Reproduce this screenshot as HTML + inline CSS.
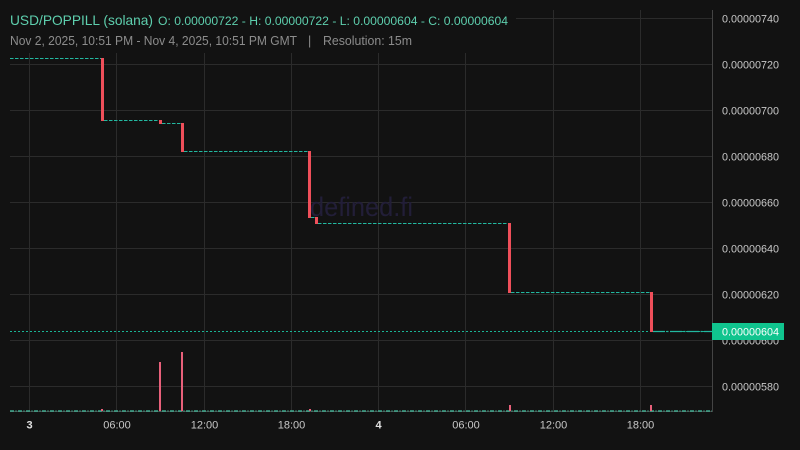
<!DOCTYPE html>
<html><head><meta charset="utf-8"><style>
html,body{margin:0;padding:0;background:#121212;}
svg{display:block;}
text{font-family:"Liberation Sans",sans-serif;}
</style></head><body>
<svg width="800" height="450" viewBox="0 0 800 450" xmlns="http://www.w3.org/2000/svg">
<rect x="0" y="0" width="800" height="450" fill="#121212"/>
<!-- grid -->
<g stroke="#2b2b2b" stroke-width="1">
<line x1="10" y1="18.5" x2="712" y2="18.5"/>
<line x1="10" y1="64.5" x2="712" y2="64.5"/>
<line x1="10" y1="110.5" x2="712" y2="110.5"/>
<line x1="10" y1="156.5" x2="712" y2="156.5"/>
<line x1="10" y1="202.5" x2="712" y2="202.5"/>
<line x1="10" y1="248.5" x2="712" y2="248.5"/>
<line x1="10" y1="294.5" x2="712" y2="294.5"/>
<line x1="10" y1="340.5" x2="712" y2="340.5"/>
<line x1="10" y1="386.5" x2="712" y2="386.5"/>
<line x1="29.5" y1="10" x2="29.5" y2="412"/>
<line x1="116.5" y1="10" x2="116.5" y2="412"/>
<line x1="204.5" y1="10" x2="204.5" y2="412"/>
<line x1="291.5" y1="10" x2="291.5" y2="412"/>
<line x1="378.5" y1="10" x2="378.5" y2="412"/>
<line x1="465.5" y1="10" x2="465.5" y2="412"/>
<line x1="553.5" y1="10" x2="553.5" y2="412"/>
<line x1="640.5" y1="10" x2="640.5" y2="412"/>
</g>
<!-- legend background -->
<rect x="0" y="0" width="516" height="53" fill="#121212"/>
<!-- border -->
<line x1="712.5" y1="10" x2="712.5" y2="412" stroke="#444" stroke-width="1"/>
<line x1="10" y1="411.5" x2="712" y2="411.5" stroke="#444" stroke-width="1"/>
<!-- watermark -->
<text x="310" y="216" font-size="27" fill="#221e38" textLength="103" lengthAdjust="spacingAndGlyphs">defined.fi</text>
<!-- current price line -->
<line x1="10" y1="331.5" x2="712" y2="331.5" stroke="#1ab394" stroke-width="1" stroke-dasharray="2 2"/>
<!-- flat doji lines -->
<g stroke="#22b8a0" stroke-width="1" stroke-dasharray="3.5 1.5" fill="none">
<line x1="10" y1="58.5" x2="101" y2="58.5"/>
<line x1="104" y1="120.5" x2="159" y2="120.5"/>
<line x1="162" y1="123.5" x2="181" y2="123.5"/>
<line x1="184" y1="151.5" x2="308" y2="151.5"/>
<line x1="311" y1="217.5" x2="315" y2="217.5"/>
<line x1="318" y1="223.5" x2="508" y2="223.5"/>
<line x1="511" y1="292.5" x2="650" y2="292.5"/>
</g>
<line x1="653" y1="331.5" x2="712" y2="331.5" stroke="#22b8a0" stroke-width="1.2" stroke-dasharray="12 1.5 2 1.5"/>
<!-- candles -->
<g fill="#ef4f5a">
<rect x="101" y="58" width="3" height="63"/>
<rect x="159" y="120" width="3" height="4"/>
<rect x="181" y="123" width="3" height="29"/>
<rect x="308" y="151" width="3" height="67"/>
<rect x="315" y="217" width="3" height="7"/>
<rect x="508" y="223" width="3" height="70"/>
<rect x="650" y="292" width="3" height="40"/>
</g>
<!-- volume baseline -->
<line x1="10" y1="411" x2="712" y2="411" stroke="#45c4a4" stroke-width="1.2" stroke-dasharray="4 1.5 1 1.5"/>
<!-- volume bars -->
<g fill="#e8607a">
<rect x="101" y="409" width="2" height="2"/>
<rect x="159" y="362" width="2" height="49"/>
<rect x="181" y="352" width="2" height="59"/>
<rect x="309" y="409" width="2" height="2"/>
<rect x="509" y="405" width="2" height="6"/>
<rect x="650" y="405" width="2" height="6"/>
</g>
<!-- y axis labels -->
<g font-size="11" fill="#c8c8c8">
<text x="722" y="22.5" textLength="57" lengthAdjust="spacingAndGlyphs">0.00000740</text>
<text x="722" y="68.5" textLength="57" lengthAdjust="spacingAndGlyphs">0.00000720</text>
<text x="722" y="114.5" textLength="57" lengthAdjust="spacingAndGlyphs">0.00000700</text>
<text x="722" y="160.5" textLength="57" lengthAdjust="spacingAndGlyphs">0.00000680</text>
<text x="722" y="206.5" textLength="57" lengthAdjust="spacingAndGlyphs">0.00000660</text>
<text x="722" y="252.5" textLength="57" lengthAdjust="spacingAndGlyphs">0.00000640</text>
<text x="722" y="298.5" textLength="57" lengthAdjust="spacingAndGlyphs">0.00000620</text>
<text x="722" y="344.5" textLength="57" lengthAdjust="spacingAndGlyphs">0.00000600</text>
<text x="722" y="390.5" textLength="57" lengthAdjust="spacingAndGlyphs">0.00000580</text>
</g>
<!-- price label -->
<rect x="712" y="323" width="72" height="17" fill="#10c48e"/>
<text x="722" y="335.5" font-size="11" fill="#ffffff" textLength="57" lengthAdjust="spacingAndGlyphs">0.00000604</text>
<!-- x axis labels -->
<g font-size="11" fill="#c8c8c8" text-anchor="middle">
<text x="29.5" y="428.5" font-weight="bold" fill="#e0e0e0">3</text>
<text x="117" y="428.5">06:00</text>
<text x="204.5" y="428.5">12:00</text>
<text x="291.5" y="428.5">18:00</text>
<text x="378.5" y="428.5" font-weight="bold" fill="#e0e0e0">4</text>
<text x="466" y="428.5">06:00</text>
<text x="553.5" y="428.5">12:00</text>
<text x="640.5" y="428.5">18:00</text>
</g>
<!-- legend -->
<text x="10" y="25" font-size="14" fill="#5ecfae" textLength="143" lengthAdjust="spacingAndGlyphs">USD/POPPILL (solana)</text>
<text x="158" y="25" font-size="11.5" fill="#5ecfae" textLength="350" lengthAdjust="spacingAndGlyphs">O: 0.00000722 - H: 0.00000722 - L: 0.00000604 - C: 0.00000604</text>
<text x="10" y="45" font-size="12.5" fill="#8c8c8c" textLength="287" lengthAdjust="spacingAndGlyphs">Nov 2, 2025, 10:51 PM - Nov 4, 2025, 10:51 PM GMT</text>
<text x="308" y="45" font-size="12.5" fill="#8c8c8c">|</text>
<text x="323" y="45" font-size="12.5" fill="#8c8c8c" textLength="89" lengthAdjust="spacingAndGlyphs">Resolution: 15m</text>
</svg>
</body></html>
